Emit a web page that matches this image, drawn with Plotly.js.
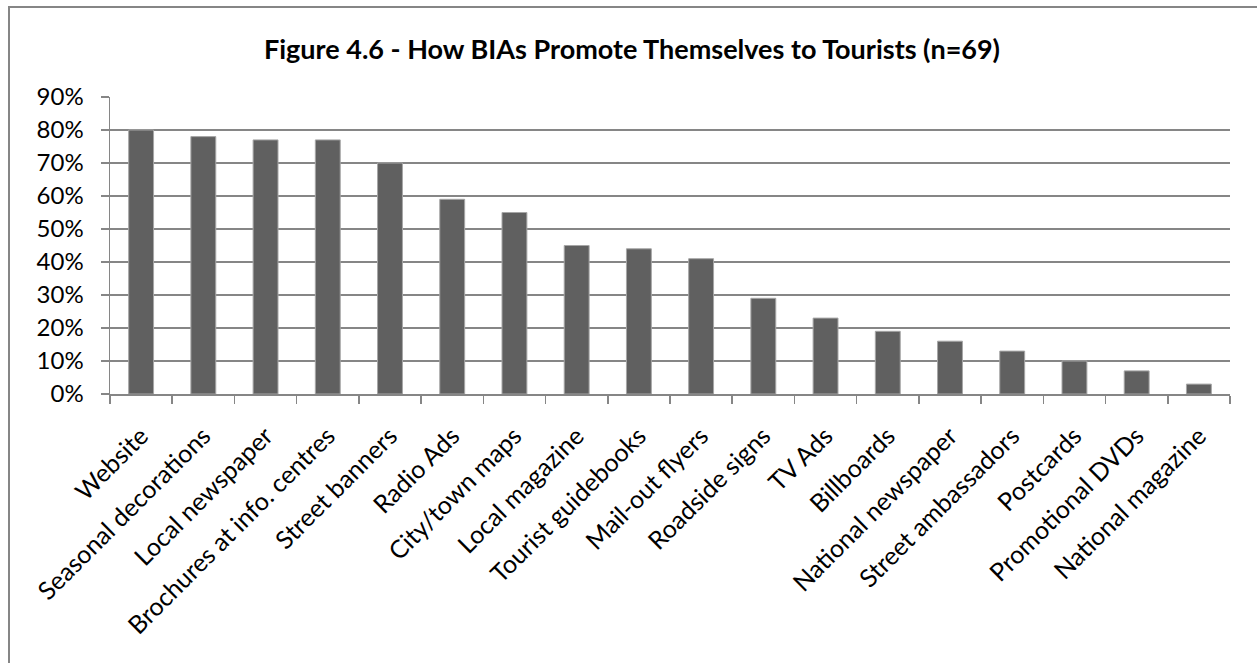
<!DOCTYPE html>
<html>
<head>
<meta charset="utf-8">
<script src="https://cdn.plot.ly/plotly-3.0.1.min.js"></script>
<style>
  html, body { margin: 0; padding: 0; background: #ffffff; }
  #chart { width: 1257px; height: 663px; }
</style>
</head>
<body>
<div id="chart"></div>
<script>
const categories = [
  "Website", "Seasonal decorations", "Local newspaper", "Brochures at info. centres",
  "Street banners", "Radio Ads", "City/town maps", "Local magazine",
  "Tourist guidebooks", "Mail-out flyers", "Roadside signs", "TV Ads",
  "Billboards", "National newspaper", "Street ambassadors", "Postcards",
  "Promotional DVDs", "National magazine"
];
const percentValues = [80, 78, 77, 77, 70, 59, 55, 45, 44, 41, 29, 23, 19, 16, 13, 10, 7, 3];
const yTickValues = [0, 10, 20, 30, 40, 50, 60, 70, 80, 90];
const yTickLabels = ["0%", "10%", "20%", "30%", "40%", "50%", "60%", "70%", "80%", "90%"];
const chartTitle = "Figure 4.6 - How BIAs Promote Themselves to Tourists (n=69)";

const W = 1257, H = 663;
const m = { l: 110, r: 27, t: 97, b: 269 };
const pw = W - m.l - m.r, ph = H - m.t - m.b;
const px2x = (px) => (px - m.l) / pw;
const px2y = (py) => (H - m.b - py) / ph;

const gridColor = "#868686";
const font = "Lato, 'Open Sans', sans-serif";

const trace = {
  type: "bar",
  x: categories,
  y: percentValues,
  width: 0.4,
  marker: { color: "#606060", line: { color: "#a6a6a6", width: 1 } },
  hoverinfo: "x+y"
};

const layout = {
  width: W, height: H,
  margin: m,
  paper_bgcolor: "#ffffff",
  plot_bgcolor: "#ffffff",
  showlegend: false,
  font: { family: font, color: "#000000" },
  title: {
    text: "<b>" + chartTitle + "</b>",
    font: { family: font, size: 27, color: "#000000" },
    x: 632 / W, xref: "container", xanchor: "center",
    y: 1 - 50 / H, yref: "container", yanchor: "middle"
  },
  xaxis: {
    type: "category",
    range: [-0.5, categories.length - 0.5],
    showgrid: false,
    showline: true, linecolor: gridColor, linewidth: 1.5,
    ticks: "outside", tickson: "boundaries", ticklen: 8, tickcolor: gridColor, tickwidth: 1.5,
    tickangle: -45,
    ticklabelstandoff: 16,
    tickfont: { family: font, size: 25, color: "#000000" },
    zeroline: false
  },
  yaxis: {
    range: [0, 90],
    tickvals: yTickValues,
    ticktext: yTickLabels,
    showgrid: true, gridcolor: gridColor, gridwidth: 1.5,
    showline: true, linecolor: gridColor, linewidth: 1.5,
    ticks: "outside", ticklen: 8, tickcolor: gridColor, tickwidth: 1.5,
    ticklabelstandoff: 12,
    tickfont: { family: font, size: 24, color: "#000000" },
    zeroline: false
  },
  shapes: [{
    type: "rect", xref: "paper", yref: "paper",
    x0: px2x(9), x1: px2x(1270), y0: px2y(680), y1: px2y(7),
    line: { color: "#868686", width: 2 }, fillcolor: "rgba(0,0,0,0)", layer: "below"
  }]
};

Plotly.newPlot("chart", [trace], layout, { displayModeBar: false, staticPlot: true });
</script>
</body>
</html>
